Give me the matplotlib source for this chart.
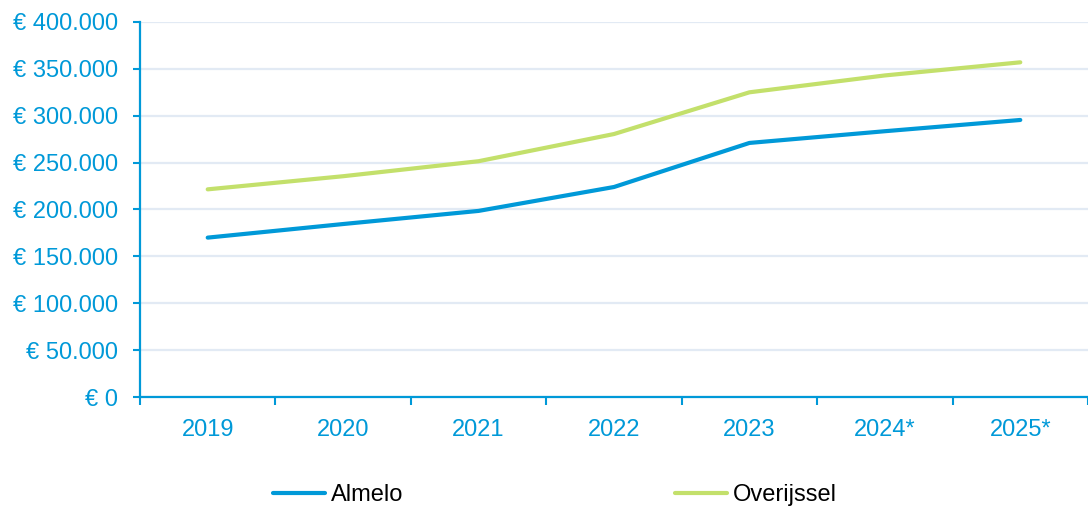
import numpy as np
import matplotlib.pyplot as plt
from matplotlib.ticker import FuncFormatter

plt.rcParams['font.family'] = ['Liberation Sans', 'DejaVu Sans']

years = ["2019", "2020", "2021", "2022", "2023", "2024*", "2025*"]
almelo = [170000, 184500, 198500, 224000, 271000, 283500, 295500]
overijssel = [221500, 235500, 251500, 280500, 325000, 343000, 357000]

blue = "#0099D8"
green = "#C3E06B"

fig = plt.figure(figsize=(10.88, 5.13), dpi=100)
ax = fig.add_axes([140/1088, 1 - 397/513, 1 - 140/1088, (397 - 22)/513])

x = np.arange(len(years))
ax.plot(x, almelo, color=blue, lw=3, solid_capstyle="round", solid_joinstyle="round", label="Almelo")
ax.plot(x, overijssel, color=green, lw=3, solid_capstyle="round", solid_joinstyle="round", label="Overijssel")

ax.set_ylim(0, 400000)
ax.set_xlim(-0.5, 6.43)
ax.set_yticks(np.arange(0, 400001, 50000))
ax.yaxis.set_major_formatter(FuncFormatter(lambda v, p: "€ " + f"{int(v):,}".replace(",", ".")))
ax.grid(axis="y", color="#E2EAF4", lw=1.6)
ax.set_axisbelow(True)

ax.set_xticks(x)
ax.set_xticklabels(years)
ax.set_xticks(np.arange(-0.5, 7, 1), minor=True)
ax.tick_params(axis="x", which="major", length=0, pad=16, labelsize=17, labelcolor=blue)
ax.tick_params(axis="x", which="minor", length=6, width=1.5, color=blue)
ax.tick_params(axis="y", length=5, width=1.5, color=blue, pad=11, labelsize=17, labelcolor=blue)

for s in ["top", "right"]:
    ax.spines[s].set_visible(False)
for s in ["left", "bottom"]:
    ax.spines[s].set_color(blue)
    ax.spines[s].set_linewidth(1.6)

fig.legend(loc="center left", bbox_to_anchor=(273/1088, 1 - 495/513), ncol=2, frameon=False,
           fontsize=17, handlelength=2.2, handletextpad=0.25, columnspacing=11.5,
           borderpad=0, borderaxespad=0)

fig.savefig("out.png", dpi=100)
